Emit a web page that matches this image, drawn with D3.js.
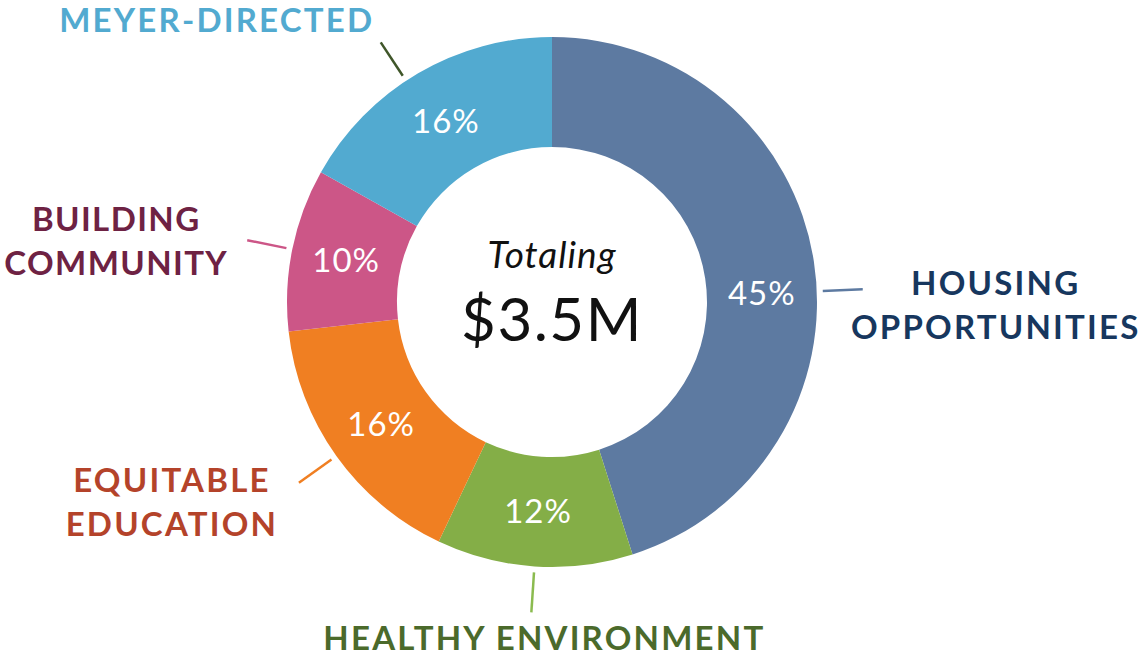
<!DOCTYPE html>
<html lang="en">
<head>
	<meta charset="UTF-8">
	<title>grants donut</title>
	<script src="https://cdn.jsdelivr.net/npm/d3@7/dist/d3.min.js"></script>
	<style>
		body { margin: 0; background: #fff; }
		svg { display: block; }
	</style>
</head>
<body>
	<script>
	// slices clockwise from 12 o'clock
	var categories = ['HOUSING OPPORTUNITIES', 'HEALTHY ENVIRONMENT', 'EQUITABLE EDUCATION', 'BUILDING COMMUNITY', 'MEYER-DIRECTED'];
	var labelLines = [['HOUSING', 'OPPORTUNITIES'], ['HEALTHY ENVIRONMENT'], ['EQUITABLE', 'EDUCATION'], ['BUILDING', 'COMMUNITY'], ['MEYER-DIRECTED']];
	// grant amounts in $ thousands, and the printed percentages
	var amounts = [1578, 418, 567, 347, 590];
	var pctLabels = ['45%', '12%', '16%', '10%', '16%'];
	var totalLabel = '$3.5M';

	var sliceColors = ['#5d7aa1', '#84ae47', '#f07f22', '#cc5687', '#52aad0'];
	var textColors = ['#17375e', '#4b6a2b', '#b4432a', '#6e2243', '#52aad0'];
	var leaderColors = ['#5d7aa1', '#8bbb4f', '#f07f22', '#cc5687', '#3f5629'];

	var width = 1142,
		height = 658,
		cx = 552,
		cy = 302,
		outerR = 265,
		innerR = 155;

	var svg = d3.select('body').append('svg')
		.attr('width', width)
		.attr('height', height);

	var g = svg.append('g')
		.attr('transform', `translate(${cx},${cy})`);

	var pie = d3.pie().sort(null).value(d => d);
	var arcs = pie(amounts);

	var arc = d3.arc().innerRadius(innerR).outerRadius(outerR);

	g.selectAll('path.slice')
		.data(arcs)
		.enter().append('path')
		.attr('class', 'slice')
		.attr('d', arc)
		.attr('fill', (d, i) => sliceColors[i]);

	function midAngle(d) {
		return (d.startAngle + d.endAngle) / 2;
	}
	// housing label sits near the horizontal, meyer's leader leans a bit left
	function calloutAngle(d) {
		if (d.index === 0) return 1.53;
		if (d.index === 4) return 5.70;
		return midAngle(d);
	}
	function pctAngle(d) {
		return d.index === 0 ? 1.53 : midAngle(d);
	}
	function polar(a, r) {
		return [r * Math.sin(a), -r * Math.cos(a)];
	}

	var labelFont = 'Lato, "Open Sans", sans-serif';

	// percentages inside the ring
	g.selectAll('text.pct')
		.data(arcs)
		.enter().append('text')
		.attr('class', 'pct')
		.attr('x', d => polar(pctAngle(d), (innerR + outerR) / 2)[0])
		.attr('y', d => polar(pctAngle(d), (innerR + outerR) / 2)[1])
		.attr('dy', '0.36em')
		.attr('text-anchor', 'middle')
		.attr('fill', '#fff')
		.style('font-family', labelFont)
		.style('font-size', '33px')
		.style('letter-spacing', '1px')
		.text((d, i) => pctLabels[i]);

	// leader lines
	var lineIn = 271, lineOut = 311;
	g.selectAll('line.leader')
		.data(arcs)
		.enter().append('line')
		.attr('class', 'leader')
		.attr('x1', d => polar(calloutAngle(d), lineIn)[0])
		.attr('y1', d => polar(calloutAngle(d), lineIn)[1])
		.attr('x2', d => polar(calloutAngle(d), lineOut)[0])
		.attr('y2', d => polar(calloutAngle(d), lineOut)[1])
		.attr('stroke', (d, i) => leaderColors[i])
		.attr('stroke-width', 2.5);

	// offset of each label block from the outer end of its leader
	var labelOffset = [
		[133, 6],
		[13, 38],
		[-127, 9],
		[-131, -9],
		[-164, -10]
	];
	var lineGap = 44;

	var labels = g.selectAll('text.cat')
		.data(arcs)
		.enter().append('text')
		.attr('class', 'cat')
		.attr('text-anchor', 'middle')
		.attr('fill', (d, i) => textColors[i])
		.style('font-family', labelFont)
		.style('font-weight', 700)
		.style('font-size', '33px')
		.style('letter-spacing', (d, i) => i === 3 ? '1.4px' : '2.2px')
		.attr('transform', (d, i) => {
			var p = polar(calloutAngle(d), lineOut);
			return `translate(${p[0] + labelOffset[i][0]},${p[1] + labelOffset[i][1]})`;
		});

	labels.selectAll('tspan')
		.data((d, i) => labelLines[i])
		.enter().append('tspan')
		.attr('x', 0)
		.attr('y', (t, j) => j * lineGap)
		.text(t => t);

	// centre text
	g.append('text')
		.attr('text-anchor', 'middle')
		.attr('y', -34)
		.style('font-family', labelFont)
		.style('font-style', 'italic')
		.style('font-size', '37px')
		.style('letter-spacing', '1px')
		.attr('fill', '#111')
		.text('Totaling');

	g.append('text')
		.attr('text-anchor', 'middle')
		.attr('y', 39)
		.style('font-family', labelFont)
		.style('font-size', '60px')
		.style('letter-spacing', '1.5px')
		.attr('fill', '#111')
		.text(totalLabel);
	</script>
</body>
</html>
